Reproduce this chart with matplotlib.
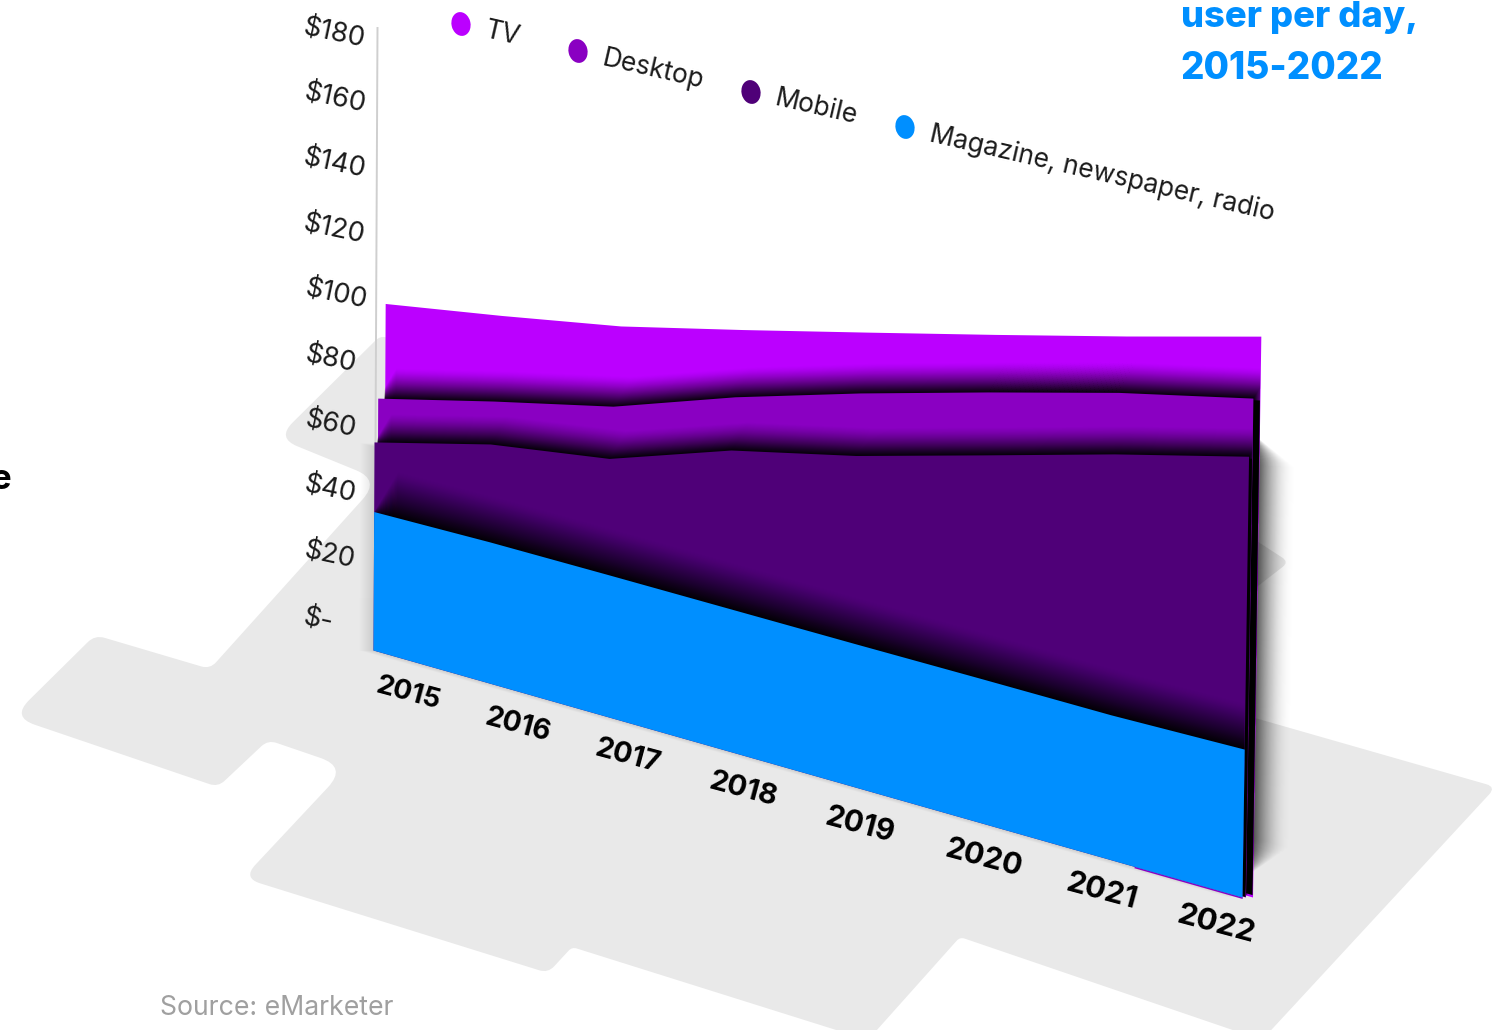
import numpy as np
import matplotlib
matplotlib.use("Agg")
import matplotlib.pyplot as plt
from matplotlib.path import Path
from matplotlib.patches import PathPatch, Ellipse
from matplotlib.transforms import Transform, Affine2D

# Stacked spending per user per day, dollars
years = ["2015", "2016", "2017", "2018", "2019", "2020", "2021", "2022"]
magazine = [40.3, 40.6, 40.4, 40.1, 39.8, 39.6, 39.3, 39.8]
mobile = [20.2, 28.1, 33.0, 44.5, 52.1, 61.3, 70.7, 78.4]
desktop = [12.7, 12.3, 14.8, 14.9, 17.3, 17.2, 16.6, 15.5]
tv = [27.4, 24.5, 22.7, 18.8, 16.8, 15.7, 15.2, 16.5]
value_ticks = [0, 20, 40, 60, 80, 100, 120, 140, 160, 180]
value_labels = ["$-", "$20", "$40", "$60", "$80", "$100", "$120", "$140", "$160", "$180"]
legend_names = ["TV", "Desktop", "Mobile", "Magazine, newspaper, radio"]

TV_C, DESK_C, MOB_C, MAG_C = "#BB00FF", "#8A00C2", "#4F0078", "#008FFF"
FLOOR_C = "#E9E9E9"
FONT = "Inter"


class Projective(Transform):
    """Plane homography taking (year index, dollars) into canvas pixels."""
    input_dims = 2
    output_dims = 2
    is_separable = False
    has_inverse = False

    def __init__(self, src, dst):
        super().__init__()
        rows, rhs = [], []
        for (x, y), (u, v) in zip(src, dst):
            rows.append([x, y, 1, 0, 0, 0, -u * x, -u * y])
            rows.append([0, 0, 0, x, y, 1, -v * x, -v * y])
            rhs += [u, v]
        h = np.linalg.solve(np.array(rows, float), np.array(rhs, float))
        self.h = np.append(h, 1).reshape(3, 3)

    def transform_non_affine(self, values):
        v = np.asarray(values, float)
        p = np.column_stack([v, np.ones(len(v))]) @ self.h.T
        return p[:, :2] / p[:, 2:3]


fig = plt.figure(figsize=(15, 10.3), dpi=100)
ax = fig.add_axes([0, 0, 1, 1])
ax.set_xlim(0, 1500)
ax.set_ylim(1030, 0)
ax.axis("off")

proj = Projective([(0, 0), (7, 0), (0, 180), (7, 180)],
                  [(373, 650), (1242, 897), (376, 28), (1252, 224)])


def placed(dx=0, dy=0):
    return proj + Affine2D().translate(dx, dy) + ax.transData


def rounded_path(verts):
    """Closed outline whose corners are eased by a per-vertex radius."""
    n = len(verts)
    pts, codes = [], []
    for i, (x, y, r) in enumerate(verts):
        v = np.array([x, y], float)
        a = np.array(verts[i - 1][:2], float)
        b = np.array(verts[(i + 1) % n][:2], float)
        p1 = v + r * (a - v) / np.linalg.norm(a - v)
        p2 = v + r * (b - v) / np.linalg.norm(b - v)
        pts += [p1, v, p2]
        codes += [Path.MOVETO if i == 0 else Path.LINETO, Path.CURVE3, Path.CURVE3]
    pts.append(pts[0])
    codes.append(Path.CLOSEPOLY)
    return Path(np.array(pts), codes)


# Floor silhouette under the chart
floor = [(380, 336, 6), (277, 438, 22), (380, 480, 26), (210, 669, 9), (95, 635, 10),
         (12, 717, 24), (218, 787, 9), (268, 740, 9), (347, 767, 28), (243, 878, 18),
         (548, 973, 9), (572, 947, 5), (868, 1040, 1), (960, 937, 5), (1262, 1040, 1),
         (1496, 787, 10), (1255, 718, 1), (1240, 600, 1), (1289, 562, 8), (1240, 530, 1)]
ax.add_patch(PathPatch(rounded_path(floor), fc=FLOOR_C, ec="none", zorder=1))

# Stack the series and set each sheet's sideways offset
t = np.arange(len(years))
floor_v = np.zeros(len(years))
top_mag = np.array(magazine, float)
top_mob = top_mag + np.array(mobile)
top_desk = top_mob + np.array(desktop)
top_tv = top_desk + np.array(tv)
DX_TV, DX_DESK, DX_MOB = 10.5, 3.5, 0


def sheet_path(top):
    return Path(np.vstack([np.column_stack([t, floor_v]),
                           np.column_stack([t[::-1], top[::-1]]),
                           [[t[0], 0]]]), closed=True)


def sheet(top, color, z, dx=0, dy=0, alpha=None, clip=None, lift=0.0):
    art = ax.fill_between(t, floor_v + lift, top, transform=placed(dx, dy), color=color,
                          alpha=alpha, linewidth=0, zorder=z)
    if clip is not None:
        art.set_clip_path(*clip)
    return art


def falloff(reach, strength, power):
    """Per-copy opacities whose stack fades from strength to nothing over reach steps."""
    f = lambda d: strength * np.clip(1 - d / reach, 0, 1) ** power
    return {k: float(1 - (1 - f(k - 1)) / (1 - f(k))) for k in range(reach, 0, -1)}


def cast_shadow(top, dx, clip, z, reach, strength=0.93, drift=0.6):
    """Soft dark band above a sheet's top edge, built from stacked translucent copies."""
    for k, a in falloff(reach, strength, 1.4).items():
        sheet(top, "black", z, dx + drift * k, -k, alpha=a, clip=clip)


# Grey glow around the sheets, falling off on both sides
for k, a in falloff(44, 0.8, 2.2).items():
    sheet(top_mob, "black", 2, 5 + k, -22 + 0.8 * k, alpha=a, lift=0.4 * k)
for k in range(1, 15):
    sheet(top_mag + 20, "black", 2, -k, 0, alpha=0.008)

# Value axis rule
ax.plot([0, 0], [0, 180], transform=placed(1.5, 0), color="#CFCFCF", lw=1.4, zorder=2)

# TV sheet and what falls onto it
sheet(top_tv, TV_C, 3, DX_TV)
clip_tv = (sheet_path(top_tv), placed(DX_TV))
cast_shadow(top_desk, DX_DESK, clip_tv, 4, 30)
sheet(top_desk, "black", 4, DX_DESK + 9, 2, clip=clip_tv, lift=1.0)

# Desktop sheet
sheet(top_desk, DESK_C, 5, DX_DESK)
clip_desk = (sheet_path(top_desk), placed(DX_DESK))
cast_shadow(top_mob, DX_MOB, clip_desk, 6, 28)
sheet(top_mob, "black", 6, DX_MOB + 6, 2, clip=clip_desk)

# Mobile sheet
sheet(top_mob, MOB_C, 7, DX_MOB)
clip_mob = (sheet_path(top_mob), placed(DX_MOB))
cast_shadow(top_mag, 0, clip_mob, 8, 40)

# Thin purple sliver peeking out below the front sheet
ax.plot([6.2, 7], [0, 0], transform=placed(0, 1), color=DESK_C, lw=1.1, zorder=8)

# Magazine sheet in front
sheet(top_mag, MAG_C, 9)

# Year labels along the foot of the chart, growing slightly towards the viewer
x_lab = [408, 518, 628, 743, 860, 983, 1101, 1216]
y_lab = [694, 725, 756, 790, 825, 858, 892, 925]
lab_size = np.linspace(20, 22.4, len(years))
for name, x, y, size in zip(years, x_lab, y_lab, lab_size):
    ax.text(x, y, name, fontfamily=FONT, fontweight="bold", fontsize=size, color="black",
            rotation=-15, rotation_mode="anchor", ha="center", va="center", zorder=10)

# Value labels climbing the left side
x_val = [318, 329.5, 330, 330, 330, 336, 334, 334.5, 334.5, 334]
for v, lab, x in zip(value_ticks, value_labels, x_val):
    ax.text(x, 620 - 3.26 * v, lab, fontfamily=FONT, fontsize=19.6, color="#1A1A1A",
            rotation=-12, rotation_mode="anchor", ha="center", va="center", zorder=10)

# Legend along the top edge
dot_xy = [(461, 24), (578, 51), (751, 92), (905, 127)]
txt_xy = [(485, 30), (603, 58), (775, 98), (930, 134)]
dot_c = [TV_C, DESK_C, MOB_C, MAG_C]
for name, (dx_, dy_), (tx, ty), c in zip(legend_names, dot_xy, txt_xy, dot_c):
    ax.add_patch(Ellipse((dx_, dy_), 19, 24, angle=-12, fc=c, ec="none", zorder=10))
    ax.text(tx, ty, name, fontfamily=FONT, fontsize=19, color="#1A1A1A",
            rotation=-13, rotation_mode="anchor", ha="left", va="center", zorder=10)

# Headline fragments at the canvas edges
ax.text(1181, 27, "user per day,", fontfamily=FONT, fontweight="heavy", fontsize=26.2,
        color=MAG_C, ha="left", va="baseline", zorder=10)
ax.text(1180, 79, "2015-2022", fontfamily=FONT, fontweight="heavy", fontsize=26.6,
        color=MAG_C, ha="left", va="baseline", zorder=10)
ax.text(-9, 489, "e", fontfamily=FONT, fontweight="bold", fontsize=25, color="black",
        ha="left", va="baseline", zorder=10)

ax.text(160, 1008, "Source: eMarketer", fontfamily=FONT, fontweight="normal", fontsize=19.2,
        color="#A0A0A0", ha="left", va="center", zorder=10)

fig.savefig("out.png", dpi=100)
